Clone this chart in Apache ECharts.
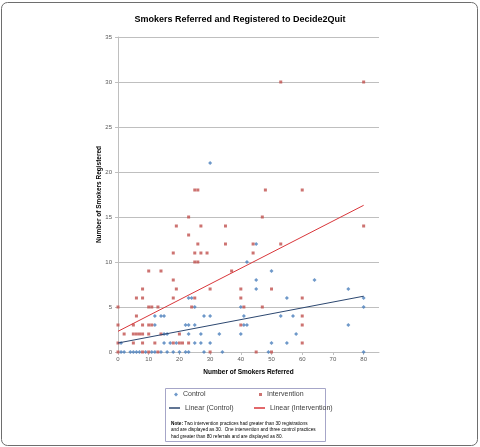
<!DOCTYPE html>
<html>
<head>
<meta charset="utf-8">
<script src="https://cdn.jsdelivr.net/npm/echarts@6/dist/echarts.min.js"></script>
<style>
html,body{margin:0;padding:0;background:#fff;}
#c{width:480px;height:447px;}
</style>
</head>
<body>
<div id="c"></div>
<script>
// ---- data ----
const titleText = 'Smokers Referred and Registered to Decide2Quit';
const xAxisTitle = 'Number of Smokers Referred';
const yAxisTitle = 'Number of Smokers Registered';
const xTicks = [0, 10, 20, 30, 40, 50, 60, 70, 80];
const yTicks = [0, 5, 10, 15, 20, 25, 30, 35];
const seriesNames = ['Control', 'Intervention', 'Linear (Control)', 'Linear (Intervention)'];

const controlPoints = [
  [1,1],[1,0],[2,0],[4,0],[5,0],[6,0],[7,0],[9,0],[11,0],[12,0],[14,0],[16,0],[18,0],[20,0],[22,0],[23,0],
  [12,4],[14,4],[15,4],[12,3],[15,2],[16,2],[15,1],[17,1],[19,1],
  [22,3],[23,3],[25,3],[23,6],[24,6],[25,5],[23,2],[27,2],[33,2],[40,2],
  [25,1],[27,1],[30,1],[28,4],[30,4],[28,0],[34,0],[30,21],
  [41,4],[41,3],[42,3],[40,5],[42,10],[45,12],[45,8],[45,7],
  [50,9],[50,1],[49,0],[53,4],[55,6],[55,1],[57,4],[58,2],[64,8],
  [75,7],[75,3],[80,6],[80,5],[80,0]
];
const interventionPoints = [
  [0,5],[0,3],[0,1],[0,0],[2,2],[5,3],[5,2],[5,1],[6,6],[6,4],[6,2],[7,2],
  [8,7],[8,6],[8,3],[8,2],[8,1],[8,0],[10,9],[10,5],[10,3],[10,2],[10,0],
  [11,5],[11,3],[12,1],[13,5],[13,0],[14,9],[14,2],[18,11],[18,8],[18,6],[18,1],
  [19,14],[19,7],[20,2],[20,1],[21,1],[23,15],[23,13],[23,1],[24,5],
  [25,18],[25,11],[25,10],[25,6],[26,18],[26,12],[26,10],[27,14],[27,11],[29,11],
  [30,7],[30,0],[35,14],[35,12],[37,9],[40,7],[40,6],[40,3],[41,5],
  [44,12],[44,11],[45,0],[47,15],[47,5],[48,18],[50,7],[50,0],
  [53,30],[53,12],[60,18],[60,6],[60,4],[60,3],[60,1],[80,30],[80,14]
];
const trendControl = [[0, 1.0], [80, 6.2]];
const trendIntervention = [[0, 2.3], [80, 16.3]];
const noteLines = [
  'Two intervention practices had greater than 30 registrations',
  'and are displayed as 30.  One intervention and three control practices',
  'had greater than 80 referrals and are displayed as 80.'
];

// ---- chart ----
const FONT = '"Liberation Sans", Arial, sans-serif';
const chart = echarts.init(document.getElementById('c'), null, {renderer: 'canvas'});
const axisGray = '#bfbfbf';
const labelGray = '#595959';
const legendText = {fontFamily: FONT, fontSize: 7, color: '#404040'};

function legendAt(name, left, top, w, h, icon) {
  return {
    data: [{name: name, icon: icon}], left: left, top: top, padding: 0,
    itemWidth: w, itemHeight: h, textStyle: legendText
  };
}

chart.setOption({
  backgroundColor: '#fff',
  animation: false,
  title: {
    text: titleText, left: 'center', top: 10,
    textStyle: {fontFamily: FONT, fontSize: 9, fontWeight: 'bold', color: '#000'}
  },
  grid: {left: 118, top: 37, width: 261, height: 315, containLabel: false},
  xAxis: {
    type: 'value', min: 0, max: 85,
    name: xAxisTitle, nameLocation: 'middle', nameGap: 17,
    nameTextStyle: {fontFamily: FONT, fontSize: 6.5, fontWeight: 'bold', color: '#000'},
    axisLine: {show: true, onZero: false, lineStyle: {color: axisGray, width: 1}},
    axisTick: {show: true, length: 3, lineStyle: {color: axisGray}, customValues: xTicks},
    axisLabel: {fontFamily: FONT, fontSize: 6, color: labelGray, margin: 4, customValues: xTicks},
    splitLine: {show: false}
  },
  yAxis: {
    type: 'value', min: 0, max: 35, interval: 5,
    name: yAxisTitle, nameLocation: 'middle', nameGap: 15, nameRotate: 90,
    nameMoveOverlap: false,
    nameTextStyle: {fontFamily: FONT, fontSize: 6.5, fontWeight: 'bold', color: '#000'},
    axisLine: {show: true, lineStyle: {color: axisGray, width: 1}},
    axisTick: {show: true, length: 3, lineStyle: {color: axisGray}},
    axisLabel: {fontFamily: FONT, fontSize: 6, color: labelGray, margin: 6},
    splitLine: {show: true, lineStyle: {color: axisGray, width: 1}}
  },
  legend: [
    legendAt(seriesNames[0], 174, 391, 4, 4, 'diamond'),
    legendAt(seriesNames[1], 259, 391, 3, 3, 'rect'),
    legendAt(seriesNames[2], 169, 404.5, 11, 1.5, 'rect'),
    legendAt(seriesNames[3], 254, 404.5, 11, 1.5, 'rect')
  ],
  graphic: [
    {
      type: 'rect', z: -1,
      shape: {x: 1.5, y: 2.5, width: 476, height: 443, r: 6},
      style: {fill: 'none', stroke: '#6e6e6e', lineWidth: 1}
    },
    {
      type: 'rect',
      shape: {x: 165.5, y: 388.5, width: 160, height: 53},
      style: {fill: '#fff', stroke: '#a6a6c8', lineWidth: 1}, z: 0
    },
    {
      type: 'text', left: 171, top: 420, z: 5,
      style: {
        text: '{b|Note:} ' + noteLines[0] + '\n' + noteLines[1] + '\n' + noteLines[2],
        fontFamily: FONT, fontSize: 4.7, lineHeight: 6.6, fill: '#000',
        rich: {b: {fontFamily: FONT, fontSize: 4.7, fontWeight: 'bold', fill: '#000'}}
      }
    }
  ],
  series: [
    {
      name: seriesNames[0], type: 'scatter', data: controlPoints,
      symbol: 'diamond', symbolSize: 4,
      itemStyle: {color: '#4a7ebb'}, z: 3
    },
    {
      name: seriesNames[1], type: 'scatter', data: interventionPoints,
      symbol: 'rect', symbolSize: 3,
      itemStyle: {color: '#c0504d'}, z: 3
    },
    {
      name: seriesNames[2], type: 'line', data: trendControl,
      showSymbol: false, symbol: 'none',
      lineStyle: {color: '#2c4770', width: 1}, itemStyle: {color: '#2c4770'}, z: 4
    },
    {
      name: seriesNames[3], type: 'line', data: trendIntervention,
      showSymbol: false, symbol: 'none',
      lineStyle: {color: '#d9363a', width: 1}, itemStyle: {color: '#d9363a'}, z: 4
    }
  ]
});
</script>
</body>
</html>
